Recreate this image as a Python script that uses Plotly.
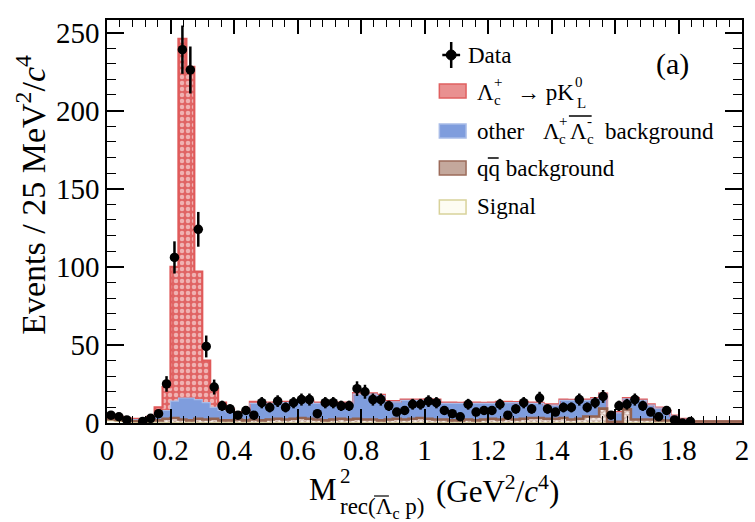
import numpy as np
import plotly.graph_objects as go

# ---------------- data ----------------
bin_width = 0.025
bin_edges = [round(i * bin_width, 4) for i in range(81)]
bin_centers = [round(e + bin_width / 2, 4) for e in bin_edges[:-1]]

# observed events per bin (first 74 bins, 0 .. 1.85)
data_counts = [5, 4, 2, None, 1, 3, 6, 25, 106, 239,
               226, 124, 49, 23, 11, 9, 5, 8, 5, 13,
               10, 14, 10, 13, 15, 15, 6, 13, 13, 11,
               11, 22, 20, 15, 15, 11, 7, 8, 12, 12,
               14, 13, 8, 6, 4, 12, 7, 8, 8, 12,
               5, 9, 13, 9, 16, 9, 7, 10, 10, 15,
               10, 13, 17, 5, 11, 12, 15, 11, 7, 4,
               8, 2, 0, 1]

# q qbar background
qq_bkg = [1.0, 1.0, 1.0, 1.0, 1.0, 1.5,
          1.5, 2.5, 3.0, 2.0, 1.5, 2.5, 2.0, 2.5, 1.5, 1.5, 2.0, 1.5,
          2.0, 1.5, 2.0, 2.5, 2.0, 2.5, 3.0, 2.5, 2.0, 1.5, 2.0, 2.5, 2.0,
          2.5, 2.0, 2.0, 1.5, 2.0, 2.5, 2.0, 2.5, 3.0, 2.5, 2.0,
          2.0, 1.5, 1.5, 2.0, 1.5, 2.0, 2.5, 2.0, 2.5, 2.0, 2.5, 3.0, 3.0, 2.5, 2.5, 3.0, 2.0, 2.5,
          4.0, 4.0, 9.0, 0.5, 0.5, 8.5, 2.0, 2.0,
          2.0, 1.5, 1.5, 1.5, 1.0, 1.0, 1.0, 1.0, 1.0, 1.0, 1.0, 1.0]

# other Lambda_c+ Lambda_c- background
other_bkg = [1.0, 1.0, 0.5, 0.8, 0.8, 1.3, 3.3, 5.3, 10.8, 13.8, 14.3, 12.3, 10.8, 7.3, 6.3, 5.3, 3.8, 4.3,
             10.3, 10.8, 10.3, 9.8, 10.8, 10.3, 10.3, 10.8, 10.3, 10.8, 10.3, 9.8, 10.3,
             15.8, 16.3, 16.3, 15.8, 11.3, 10.8, 12.3, 11.8, 11.3, 11.8, 12.3,
             10.3, 10.8, 10.8, 10.3, 10.8, 10.3, 9.8, 10.8, 10.3, 10.8, 10.3, 9.3, 9.3, 8.8, 8.8, 11.3, 12.3, 11.8,
             10.3, 11.3, 9.3, 5.8, 5.8, 6.8, 13.3, 12.3, 9.3, 7.8, 5.8, 2.8, 1.3,
             0, 0, 0, 0, 0, 0, 0]

# Lambda_c+ -> p K_L0
pkl_peak = [1.5, 1.0, 1.0, 0.5, 0.5, 1.0,
            5, 15, 86, 230, 212, 82, 27, 12, 5, 2, 1, 1,
            1.0, 0.5, 0.5, 0.6, 0.5, 0.5, 0.6, 0.5, 0.5, 0.5, 0.6, 0.5, 0.5,
            0.6, 0.5, 0.5, 0.5, 0.6, 0.5, 0.5, 0.5, 0.5, 0.6, 0.5,
            0.5, 0.5, 0.4, 0.5, 0.5, 0.4, 0.5, 0.5, 0.5, 0.4, 0.5, 0.5, 0.4, 0.5, 0.5, 0.5, 0.4, 0.5,
            0.5, 0.5, 0.4, 0.4, 0.4, 0.4, 0.5, 0.5, 0.4, 0.4, 0.3, 0.3, 0.2,
            0, 0, 0, 0, 0, 0, 0]

# signal
signal_mc = [1.5, 1.0, 0.5, 0.3, 0.2, 0.2, 0.2, 0.2, 0.2, 0.2,
             0.2, 0.2, 0.2, 0.2, 0.2, 0.2, 0.2, 0.2, 0.2, 0.2,
             0.2, 0.2, 0.2, 0.2, 0.2, 0.2, 0.2, 0.2, 0.2, 0.2,
             0.2, 0.2, 0.2, 0.2, 0.2, 0.2, 0.2, 0.2, 0.2, 0.2,
             0.2, 0.2, 0.2, 0.2, 0.2, 0.2, 0.2, 0.2, 0.2, 0.2,
             0.2, 0.2, 0.2, 0.2, 0.2, 0.2, 0.2, 0.2, 0.2, 0.2,
             0.2, 0.2, 0.2, 0.2, 0.2, 0.2, 0.2, 0.2, 0.2, 0.2,
             0.1, 0.1, 0.1, 0, 0, 0, 0, 0, 0, 0]

x_tick_vals = [0, 0.2, 0.4, 0.6, 0.8, 1, 1.2, 1.4, 1.6, 1.8, 2]
x_tick_text = ["0", "0.2", "0.4", "0.6", "0.8", "1", "1.2", "1.4", "1.6", "1.8", "2"]
y_tick_vals = [0, 50, 100, 150, 200, 250]

# ---------------- figure ----------------
SERIF = "Liberation Serif"
W, H = 755, 522
ML, MR, MT, MB = 107, 6, 20, 99
PW, PH = W - ML - MR, H - MT - MB


def px(X):
    return (X - ML) / PW


def py(Y):
    return (H - MB - Y) / PH


fig = go.Figure()

# stack order bottom -> top
layers = [
    ("signal", signal_mc, dict(color="#fbfaf0"), "#d8d29a", 1.0),
    ("qq", qq_bkg, dict(color="#a37a6a", pattern=dict(shape="x", bgcolor="#f4ece8", fgcolor="#a07060", size=4, solidity=0.5)), "#93624f", 2.6),
    ("other", other_bkg, dict(color="#7f9ddd"), "#a8bce8", 1.2),
    ("pkl", pkl_peak, dict(color="#e07070", pattern=dict(shape=".", bgcolor="#e06464", fgcolor="#ffffff", size=6, solidity=0.45)), "#e05a5a", 2.2),
]

for _, vals, mk, _, _ in layers:
    mk = dict(mk)
    mk["line"] = dict(width=0)
    fig.add_trace(go.Bar(x=bin_centers, y=vals, width=bin_width, marker=mk,
                         showlegend=False, hoverinfo="skip"))

cums = []
cum = np.zeros(len(bin_centers))
for l in layers:
    cum = cum + np.array(l[1], dtype=float)
    cums.append((cum.copy(), l[3], l[4]))

# outlines: signal, red, blue, then brown on top
for c, lc, lw in [cums[0], cums[3], cums[2], cums[1]]:
    fig.add_trace(go.Scatter(x=bin_edges, y=list(c) + [c[-1]], mode="lines",
                             line=dict(shape="hv", color=lc, width=lw),
                             showlegend=False, hoverinfo="skip"))

errs = [None if v is None else float(np.sqrt(v)) for v in data_counts]
fig.add_trace(go.Scatter(
    x=bin_centers[:len(data_counts)], y=data_counts, mode="markers",
    marker=dict(color="black", size=9.5),
    error_y=dict(type="data", array=errs, visible=True, color="black", thickness=2.5, width=0),
    showlegend=False))

axis_common = dict(showline=True, linecolor="black", linewidth=1.5, mirror="ticks",
                   showgrid=False, zeroline=False, ticks="inside", tickcolor="black",
                   tickfont=dict(family=SERIF, size=29, color="black"))

fig.update_layout(
    width=W, height=H, margin=dict(l=ML, r=MR, t=MT, b=MB),
    paper_bgcolor="white", plot_bgcolor="white",
    barmode="stack", bargap=0, showlegend=False,
    xaxis=dict(range=[0, 2], tickvals=x_tick_vals, ticktext=x_tick_text, ticklen=14, tickwidth=1.5,
               minor=dict(ticks="inside", tickmode="linear", tick0=0, dtick=0.04, ticklen=7,
                          tickwidth=1, tickcolor="black"),
               **axis_common),
    yaxis=dict(range=[0, 258], tickvals=y_tick_vals, ticklen=17, tickwidth=1.5,
               minor=dict(ticks="inside", tickmode="linear", tick0=0, dtick=10, ticklen=9,
                          tickwidth=1, tickcolor="black"),
               **axis_common),
)

ann = []


def txt(X, Y, s, size, anchor="left", angle=0):
    ann.append(dict(x=px(X), y=py(Y), xref="paper", yref="paper", text=s, showarrow=False,
                    xanchor=anchor, yanchor="middle", textangle=angle,
                    font=dict(family=SERIF, size=size, color="black")))


# axis titles
txt(30, 195, "Events / 25 MeV<sup>2</sup>/<i>c</i><sup>4</sup>", 34, anchor="center", angle=-90)
txt(309, 489, "M", 31)
txt(341, 476, "2", 21)
txt(341, 508, "rec(Λ<sub>c</sub> p)", 23)
txt(438, 489, "(GeV<sup>2</sup>/<i>c</i><sup>4</sup>)", 31)

# legend texts
LF, SF = 23, 15
txt(470, 55, "Data", LF)
txt(479, 92, "Λ", LF)
txt(496, 82, "+", SF)
txt(496, 100, "c", SF)
txt(520, 92, "→ pK", LF)
txt(578, 82, "0", SF)
txt(580, 103, "L", SF)
txt(479, 131, "other", LF)
txt(546, 131, "Λ", LF)
txt(562, 121, "+", SF)
txt(562, 139, "c", SF)
txt(573, 131, "Λ", LF)
txt(590, 121, "-", SF)
txt(590, 139, "c", SF)
txt(608, 131, "background", LF)
txt(479, 168, "qq background", LF)
txt(479, 206, "Signal", LF)
txt(660, 64, "(a)", 30)

shapes = []


def rect(x0, y0, x1, y1, fill, line):
    shapes.append(dict(type="rect", xref="paper", yref="paper", x0=px(x0), x1=px(x1),
                       y0=py(y0), y1=py(y1), fillcolor=fill, line=dict(color=line, width=1.5)))


def seg(x0, y0, x1, y1, w=1.5):
    shapes.append(dict(type="line", xref="paper", yref="paper", x0=px(x0), x1=px(x1),
                       y0=py(y0), y1=py(y1), line=dict(color="black", width=w)))


# legend data symbol
seg(455, 42, 455, 68, 2.5)
seg(446, 55, 464, 55, 2.5)
shapes.append(dict(type="circle", xref="paper", yref="paper", x0=px(450), x1=px(460),
                   y0=py(50), y1=py(60), fillcolor="black", line=dict(color="black", width=1)))
rect(443, 84, 470, 98, "#e99090", "#e06060")
rect(443, 124, 470, 138, "#7f9ddd", "#a8bce8")
rect(443, 161, 470, 175, "#c4a89c", "#9c6b5a")
rect(443, 200, 470, 214, "#fdfcf2", "#d8d29a")
# overlines
seg(574, 116, 597, 116, 1.5)
seg(492, 158, 503, 158, 1.5)
seg(377, 496, 392, 496, 1.2)

fig.update_layout(annotations=ann, shapes=shapes)
fig.write_html("out.html")
